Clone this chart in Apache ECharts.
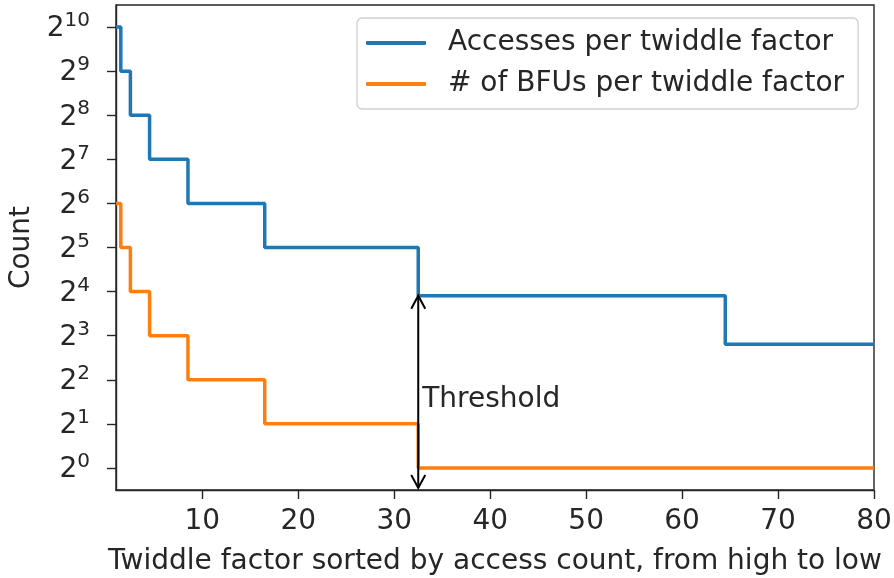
<!DOCTYPE html>
<html>
<head>
<meta charset="utf-8">
<script src="https://cdn.jsdelivr.net/npm/echarts@6/dist/echarts.min.js"></script>
<style>
  html, body { margin: 0; padding: 0; background: #ffffff; }
  #chart { width: 894px; height: 578px; }
</style>
</head>
<body>
<div id="chart"></div>
<script>
// Twiddle factors are grouped: each group starts at the listed index and
// runs until the next group starts (the last one runs to lastTwiddle).
const twiddleGroupStart = [1, 2, 3, 5, 9, 17, 33, 65];
const lastTwiddle = 80;
const accessesPerTwiddle = [1024, 512, 256, 128, 64, 32, 15, 7];
const bfusPerTwiddle = [64, 32, 16, 8, 4, 2, 1, 1];

const xTicks = [10, 20, 30, 40, 50, 60, 70, 80];
const yTickExponents = [0, 1, 2, 3, 4, 5, 6, 7, 8, 9, 10];

// Threshold marker: group boundary between index 32 and 33
const thresholdX = 32.5;
const thresholdTop = 15;
const thresholdBottom = 0.73;
const thresholdText = 'Threshold';

const FONT = 'DejaVu Sans';
const INK = '#262626';
const FS = 28;

function expand(values) {
  const out = [];
  for (let g = 0; g < twiddleGroupStart.length; g++) {
    const end = g + 1 < twiddleGroupStart.length ? twiddleGroupStart[g + 1] - 1 : lastTwiddle;
    for (let i = twiddleGroupStart[g]; i <= end; i++) out.push([i, values[g]]);
  }
  return out;
}

const yTickValues = yTickExponents.map(e => Math.pow(2, e));

const chart = echarts.init(document.getElementById('chart'), null, { renderer: 'canvas' });

chart.setOption({
  animation: false,
  backgroundColor: '#ffffff',
  textStyle: { fontFamily: FONT, color: INK },
  grid: {
    left: 116, right: 20, top: 5, bottom: 88,
    outerBoundsMode: 'none',
    containLabel: false,
    show: true, borderColor: INK, borderWidth: 1.4, backgroundColor: 'transparent'
  },
  legend: {
    orient: 'vertical',
    left: 357, top: 18,
    padding: [9, 14, 9, 9],
    itemGap: 9,
    itemWidth: 60, itemHeight: 4,
    icon: 'roundRect',
    borderColor: '#d0d0d0', borderWidth: 1.3, borderRadius: 5,
    backgroundColor: 'rgba(255,255,255,0.8)',
    textStyle: { fontFamily: FONT, fontSize: FS, color: INK, lineHeight: 32, padding: [0, 0, 0, 17] },
    data: ['Accesses per twiddle factor', '# of BFUs per twiddle factor']
  },
  xAxis: {
    type: 'value',
    min: 1, max: lastTwiddle,
    name: 'Twiddle factor sorted by access count, from high to low',
    nameLocation: 'middle', nameGap: 58,
    nameTextStyle: { fontFamily: FONT, fontSize: FS, color: INK },
    axisLine: { show: true, lineStyle: { color: INK, width: 1.4 } },
    axisTick: { show: true, length: 9, lineStyle: { color: INK, width: 1.4 }, customValues: xTicks },
    axisLabel: { fontFamily: FONT, fontSize: FS, color: INK, margin: 18, customValues: xTicks },
    splitLine: { show: false }
  },
  yAxis: {
    type: 'log', logBase: 2,
    min: Math.pow(2, -0.5), max: Math.pow(2, 10.5),
    name: 'Count',
    nameLocation: 'middle', nameGap: 76, nameRotate: 90,
    nameTextStyle: { fontFamily: FONT, fontSize: FS, color: INK },
    axisLine: { show: true, lineStyle: { color: INK, width: 1.4 } },
    axisTick: { show: true, length: 9, lineStyle: { color: INK, width: 1.4 }, customValues: yTickValues },
    axisLabel: {
      margin: 26,
      customValues: yTickValues,
      formatter: v => '{b|2}{e|' + Math.round(Math.log2(v)) + '}',
      rich: {
        b: { fontFamily: FONT, fontSize: FS, color: INK, verticalAlign: 'bottom', lineHeight: 32 },
        e: { fontFamily: FONT, fontSize: 20, color: INK, verticalAlign: 'top', lineHeight: 20, padding: [0, 0, 10, 0] }
      }
    },
    splitLine: { show: false }
  },
  series: [
    {
      name: 'Accesses per twiddle factor',
      type: 'line', step: 'middle', showSymbol: false,
      data: expand(accessesPerTwiddle),
      lineStyle: { color: '#1f77b4', width: 3.5 },
      itemStyle: { color: '#1f77b4' },
      z: 2
    },
    {
      name: '# of BFUs per twiddle factor',
      type: 'line', step: 'middle', showSymbol: false,
      data: expand(bfusPerTwiddle),
      lineStyle: { color: '#ff7f0e', width: 3.5 },
      itemStyle: { color: '#ff7f0e' },
      z: 3
    },
    {
      // double-headed threshold arrow with its caption
      type: 'custom',
      silent: true,
      z: 5,
      data: [[thresholdX, thresholdTop, thresholdBottom]],
      renderItem: function (params, api) {
        const top = api.coord([api.value(0), api.value(1)]);
        const bot = api.coord([api.value(0), api.value(2)]);
        const hw = 7, hl = 13;
        const style = { stroke: '#000000', lineWidth: 2, fill: null, lineJoin: 'miter' };
        return {
          type: 'group',
          children: [
            { type: 'polyline', shape: { points: [top, bot] }, style: style },
            { type: 'polyline', shape: { points: [[top[0] - hw, top[1] + hl], top, [top[0] + hw, top[1] + hl]] }, style: style },
            { type: 'polyline', shape: { points: [[bot[0] - hw, bot[1] - hl], bot, [bot[0] + hw, bot[1] - hl]] }, style: style },
            {
              type: 'text',
              x: top[0] + 4, y: (top[1] + bot[1]) / 2 + 8,
              style: {
                text: thresholdText, fontFamily: FONT, fontSize: FS, fill: INK,
                align: 'left', verticalAlign: 'middle'
              }
            }
          ]
        };
      }
    }
  ]
});
</script>
</body>
</html>
